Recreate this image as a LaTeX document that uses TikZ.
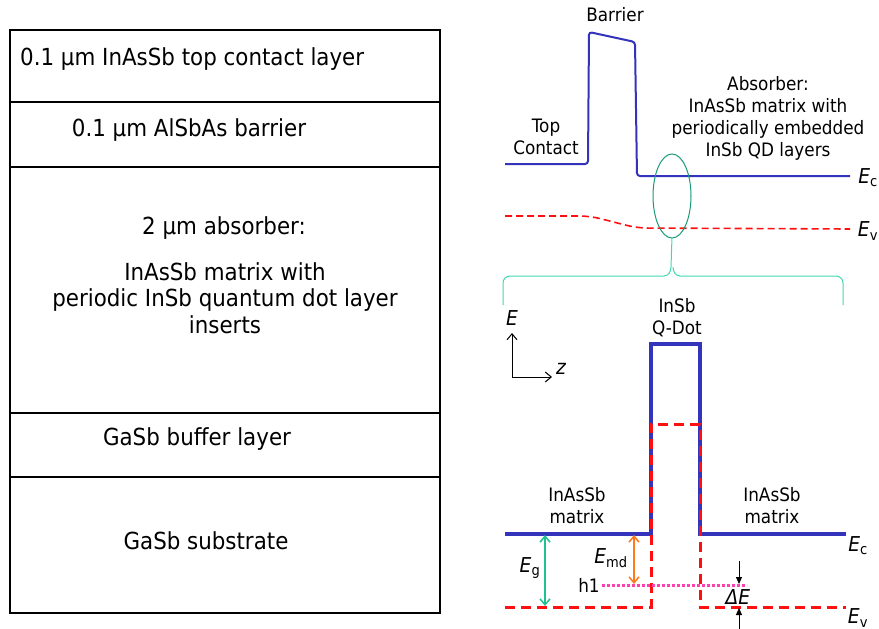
\documentclass[tikz,border=0pt]{standalone}
\usepackage{fontspec}
\setmainfont{DejaVu Sans}[FakeStretch=0.91]
\usetikzlibrary{arrows.meta,shapes.geometric}
\definecolor{bandblue}{HTML}{3333BB}
\definecolor{bandred}{HTML}{FF1010}
\definecolor{ovalgreen}{HTML}{1A9A78}
\definecolor{bracegreen}{HTML}{40D8B0}
\definecolor{gapgreen}{HTML}{20C090}
\definecolor{mdorange}{HTML}{FF7A1A}
\definecolor{holepink}{HTML}{FF40B0}
\newcommand{\bigtxt}{\fontsize{23.5}{26.5}\selectfont}
\newcommand{\smtxt}{\fontsize{18.5}{22}\selectfont}
\newcommand{\eltxt}{\fontsize{20.5}{22}\selectfont}
\newcommand{\Elab}[1]{{\itshape E}\textsubscript{#1}}
\begin{document}
\begin{tikzpicture}[x=1pt,y=-1pt,
  layer/.style={draw,line width=2pt,minimum width=430pt,inner sep=0pt},
  lbl/.style={inner sep=0pt,align=center,font=\smtxt},
  elbl/.style={inner sep=0pt,font=\eltxt},
  tip/.style={-{Straight Barb[length=6pt,width=10pt]}},
  ftip/.style={-{Triangle[length=7pt,width=6pt]}},
  dtip/.style={{Straight Barb[length=6pt,width=10pt]}-{Straight Barb[length=6pt,width=10pt]}}]
  \useasboundingbox (0,0) rectangle (879,629);
  % layer stack
  \node[layer,minimum height=72pt] (top) at (225,66) {};
  \node[layer,minimum height=65pt] (bar) at (225,134.5) {};
  \node[layer,minimum height=246pt] (abs) at (225,290) {};
  \node[layer,minimum height=64pt] (buf) at (225,445) {};
  \node[layer,minimum height=136pt] (sub) at (225,545) {};
  \node[inner sep=0pt,font=\bigtxt,anchor=west] (toptxt) at (20,59) {0.1 µm InAsSb top contact layer};
  \node[inner sep=0pt,font=\bigtxt] (bartxt) at (189,130) {0.1 µm AlSbAs barrier};
  \node[inner sep=0pt,font=\bigtxt] (abstxt) at (224,228) {2 µm absorber:};
  \node[inner sep=0pt,font=\bigtxt,align=center] (abstxt2) at (225,298) {InAsSb matrix with\\periodic InSb quantum dot layer\\inserts};
  \node[inner sep=0pt,font=\bigtxt] (buftxt) at (197,439) {GaSb buffer layer};
  \node[inner sep=0pt,font=\bigtxt] (subtxt) at (206,541) {GaSb substrate};
  % band diagram, whole device
  \draw[bandblue,line width=2pt,rounded corners=3pt] (505,164) -- (588,164) -- (589,32) -- (635,42) -- (637,176) -- (850,176);
  \draw[bandred,line width=1.6pt,dash pattern=on 7pt off 4pt,rounded corners=10pt] (505,216) -- (590,216) -- (637,228) -- (850,229);
  \node[lbl] (barlbl) at (615,15) {Barrier};
  \node[lbl] (toplbl) at (546,137) {Top\\Contact};
  \node[lbl] (abslbl) at (768,118) {Absorber:\\InAsSb matrix with\\periodically embedded\\InSb QD layers};
  \node[elbl] (ec1) at (868,178) {\Elab{c}};
  \node[elbl] (ev1) at (868,231) {\Elab{v}};
  \node[draw=ovalgreen,line width=1pt,ellipse,minimum width=38pt,minimum height=84pt] (zoom) at (672,196) {};
  \draw[bracegreen,line width=1pt] (503,305) -- (503,283) to[out=90,in=180] (510,276) -- (664,276) to[out=0,in=-90] (671,267) -- (672,237);
  \draw[bracegreen,line width=1pt] (843,305) -- (843,283) to[out=90,in=0] (836,276) -- (680,276) to[out=180,in=-90] (673,267);
  % band diagram, one dot
  \coordinate (orig) at (512,377);
  \draw[tip,line width=1pt] (orig) -- ++(0,-44) coordinate (eax);
  \draw[tip,line width=1pt] (orig) -- ++(40,0) coordinate (zax);
  \node[elbl,font=\itshape\eltxt] (elbl) at (512,318) {E};
  \node[elbl,font=\itshape\eltxt] (zlbl) at (561,369) {z};
  \draw[bandblue,line width=3.5pt] (505,534) -- (651,534) -- (651,344) -- (700,344) -- (700,534) -- (846,534);
  \draw[bandred,line width=3pt,dash pattern=on 10pt off 6pt] (505,607) -- (651,607) -- (651,424) -- (700,424) -- (700,607) -- (846,607);
  \node[lbl] (dotlbl) at (677,318) {InSb\\Q-Dot};
  \node[lbl] (mlft) at (577,506) {InAsSb\\matrix};
  \node[lbl] (mrgt) at (772,506) {InAsSb\\matrix};
  \node[elbl] (ec2) at (858,546) {\Elab{c}};
  \node[elbl] (ev2) at (858,618) {\Elab{v}};
  \coordinate (gtop) at (545,535);
  \coordinate (gbot) at (545,606);
  \draw[dtip,gapgreen,line width=1.5pt] (gtop) -- (gbot);
  \node[elbl] (eglbl) at (530,568) {\Elab{g}};
  \coordinate (mdtop) at (634,535);
  \coordinate (mdbot) at (634,584);
  \draw[dtip,mdorange,line width=1.5pt] (mdtop) -- (mdbot);
  \node[elbl] (mdlbl) at (611,558) {\Elab{md}};
  \node[lbl] (hlbl) at (589,585) {h1};
  \coordinate (hl) at (602,585);
  \coordinate (hr) at (747,585);
  \draw[holepink,line width=3pt,dash pattern=on 2.5pt off 2.5pt] (hl) -- (hr);
  \coordinate (dtop) at (739,561);
  \coordinate (dbot) at (739,629);
  \draw[ftip,line width=1pt] (dtop) -- (739,584);
  \draw[ftip,line width=1pt] (dbot) -- (739,608);
  \node[elbl,font=\itshape\eltxt] (delbl) at (738,597) {ΔE};
\end{tikzpicture}
\end{document}
